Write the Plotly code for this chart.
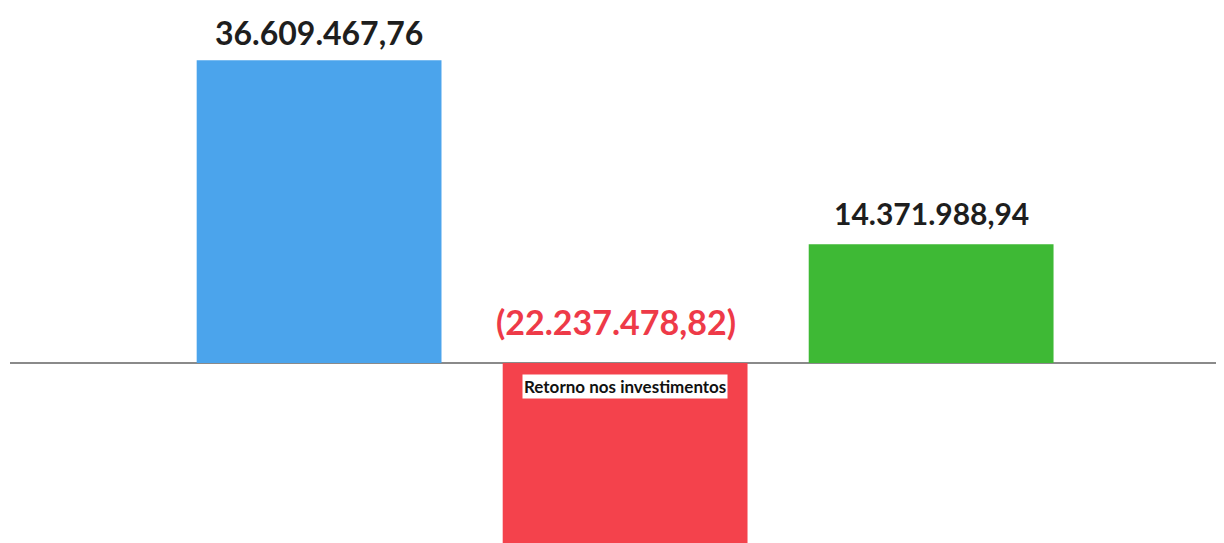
import plotly.graph_objects as go

# dados
categorias = ["", "Retorno nos investimentos", ""]
valores = [36609467.76, -22237478.82, 14371988.94]
rotulos = ["36.609.467,76", "(22.237.478,82)", "14.371.988,94"]
cores = ["#4BA4EC", "#F4424C", "#3EB935"]
cores_rotulos = ["#1E1E1E", "#EE3A48", "#1E1E1E"]
tamanhos_rotulos = [32, 34, 30]
desloc_rotulos = [7, 20, 12]
desloc_x_rotulos = [0, -9, 0]

pos = list(range(len(valores)))

fig = go.Figure()
fig.add_trace(go.Bar(x=pos, y=valores, width=0.8,
                     marker=dict(color=cores, line=dict(width=0)),
                     hoverinfo="skip"))

# rotulos de valor
for i, v in enumerate(valores):
    base = max(v, 0)
    fig.add_annotation(x=pos[i], y=base, text="<b>" + rotulos[i] + "</b>",
                       showarrow=False, yanchor="bottom", yshift=desloc_rotulos[i],
                       xshift=desloc_x_rotulos[i], borderpad=0,
                       font=dict(family="Lato", size=tamanhos_rotulos[i],
                                 color=cores_rotulos[i]))

# rotulo de categoria
for i, c in enumerate(categorias):
    if c:
        fig.add_annotation(x=pos[i], y=0, text="<b>" + c + "</b>",
                           showarrow=False, yanchor="top", yshift=-11,
                           bgcolor="white", borderpad=1,
                           font=dict(family="Lato", size=17, color="#111111"))

# a pagina tem 8px de margem no body
fig.update_layout(
    width=1216, height=535,
    margin=dict(l=2, r=0, t=0, b=0),
    paper_bgcolor="white", plot_bgcolor="white",
    showlegend=False,
    xaxis=dict(range=[-1.01, 2.957], visible=False),
    yaxis=dict(range=[-21.77e6, 42.93e6], showgrid=False,
               showticklabels=False, zeroline=True,
               zerolinecolor="#8A8A8A", zerolinewidth=1.5),
)

fig.write_html("out.html")
